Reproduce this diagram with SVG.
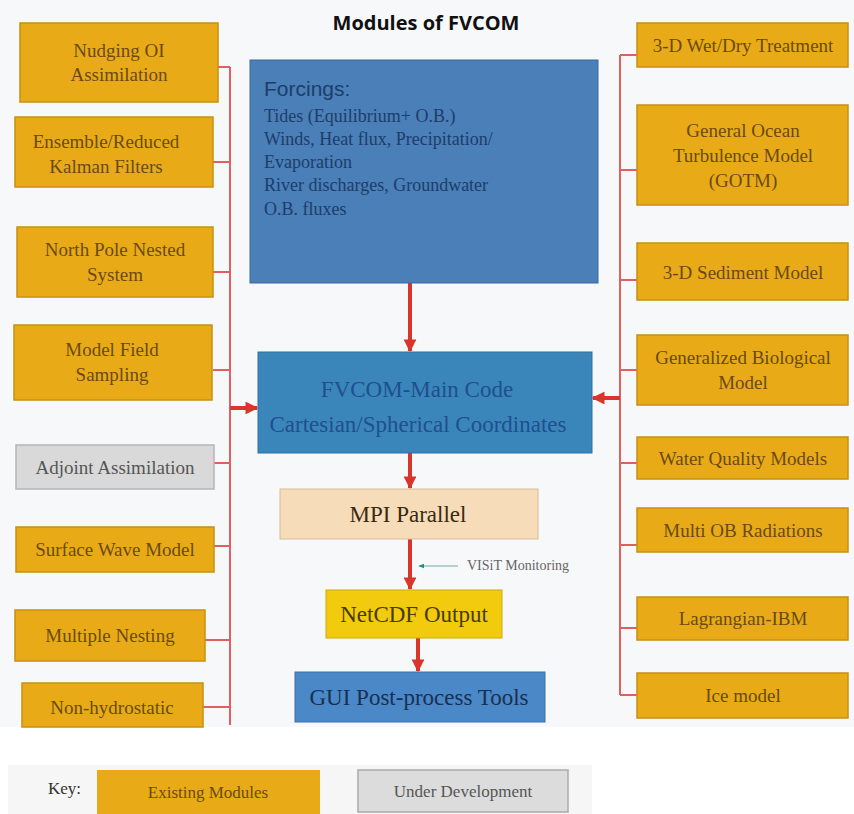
<svg xmlns="http://www.w3.org/2000/svg" width="854" height="814" viewBox="0 0 854 814">
<defs>
<style>
.org{fill:#e9aa17;stroke:#c8900f;stroke-width:1.5}
.gry{fill:#d9d9d9;stroke:#b5b5b5;stroke-width:1.5}
.mt{font-family:"Liberation Serif","Times New Roman",serif;font-size:19px;fill:#6a4a12;text-anchor:middle}
.gt{font-family:"Liberation Serif","Times New Roman",serif;font-size:19px;fill:#555;text-anchor:middle}
.ft{font-family:"Liberation Serif","Times New Roman",serif;font-size:18px;fill:#1d3d6a}
.ct{font-family:"Liberation Serif","Times New Roman",serif;font-size:23px;text-anchor:middle}
.ln{stroke:#e06060;stroke-width:2;fill:none}
.ar{stroke:#d8352c;stroke-width:4;fill:none}
</style>
<marker id="ah" viewBox="0 0 10 10" refX="9" refY="5" markerWidth="3.2" markerHeight="3.2" orient="auto"><path d="M0,0 L10,5 L0,10 z" fill="#d8352c"/></marker>
<marker id="ahg" viewBox="0 0 10 10" refX="9" refY="5" markerWidth="6" markerHeight="6" orient="auto"><path d="M0,1 L10,5 L0,9 z" fill="#2a8a7a"/></marker>
</defs>
<rect x="0" y="0" width="854" height="727" fill="#f7f8fa"/>
<rect x="0" y="727" width="854" height="87" fill="#ffffff"/>
<rect x="8" y="765" width="584" height="49" fill="#f6f6f6"/>
<text x="426" y="30" text-anchor="middle" font-family="'Open Sans','Noto Sans',sans-serif" font-weight="bold" font-size="20" fill="#111">Modules of FVCOM</text>

<g id="connectors">
<path class="ln" d="M230,67 V725 M218,67 H230 M213,162 H230 M213,272 H230 M213,370 H230 M214,463 H230 M214,546 H230 M205,640 H230 M203,707 H230"/>
<path class="ln" d="M620,55 V695 M620,55 H637 M620,170 H637 M620,280 H637 M620,370 H637 M620,463 H637 M620,545 H637 M620,628 H637 M620,695 H637"/>
<line class="ar" x1="230" y1="408" x2="257" y2="408" marker-end="url(#ah)"/>
<line class="ar" x1="620" y1="398" x2="593" y2="398" marker-end="url(#ah)"/>
<line class="ar" x1="410" y1="283" x2="410" y2="351" marker-end="url(#ah)"/>
<line class="ar" x1="410" y1="453" x2="410" y2="488" marker-end="url(#ah)"/>
<line class="ar" x1="410" y1="539" x2="410" y2="589" marker-end="url(#ah)"/>
<line class="ar" x1="418" y1="638" x2="418" y2="671" marker-end="url(#ah)"/>
<line x1="458" y1="566" x2="419" y2="566" stroke="#7aa" stroke-width="1" marker-end="url(#ahg)"/>
</g>
<text x="467" y="570" font-family="'Liberation Serif',serif" font-size="14" fill="#666">VISiT Monitoring</text>

<g id="nudging"><rect class="org" x="20" y="23" width="198" height="79"/><text class="mt" x="119" y="57">Nudging OI</text><text class="mt" x="119" y="81">Assimilation</text></g>
<g id="kalman"><rect class="org" x="15" y="117" width="198" height="70"/><text class="mt" x="106" y="148">Ensemble/Reduced</text><text class="mt" x="106" y="173">Kalman Filters</text></g>
<g id="northpole"><rect class="org" x="17" y="227" width="196" height="70"/><text class="mt" x="115" y="256">North Pole Nested</text><text class="mt" x="115" y="281">System</text></g>
<g id="sampling"><rect class="org" x="14" y="325" width="198" height="75"/><text class="mt" x="112" y="356">Model Field</text><text class="mt" x="112" y="381">Sampling</text></g>
<g id="adjoint"><rect class="gry" x="16" y="445" width="198" height="44"/><text class="gt" x="115" y="474">Adjoint Assimilation</text></g>
<g id="wave"><rect class="org" x="16" y="527" width="198" height="45"/><text class="mt" x="115" y="556">Surface Wave Model</text></g>
<g id="nesting"><rect class="org" x="15" y="610" width="190" height="51"/><text class="mt" x="110" y="642">Multiple Nesting</text></g>
<g id="nonhydro"><rect class="org" x="22" y="683" width="181" height="44"/><text class="mt" x="112" y="714">Non-hydrostatic</text></g>

<g id="forcings"><rect x="250" y="60" width="348" height="223" fill="#4a7fb8" stroke="#3a6a9c" stroke-width="1"/>
<text x="264" y="96" font-family="'Liberation Sans',Arial,sans-serif" font-size="21" fill="#1d3d6a">Forcings:</text>
<text class="ft" x="264" y="122">Tides (Equilibrium+ O.B.)</text>
<text class="ft" x="264" y="145">Winds, Heat flux, Precipitation/</text>
<text class="ft" x="264" y="168">Evaporation</text>
<text class="ft" x="264" y="191">River discharges, Groundwater</text>
<text class="ft" x="264" y="215">O.B. fluxes</text></g>

<g id="maincode"><rect x="258" y="352" width="334" height="101" fill="#3a86ba" stroke="#2f6f9c" stroke-width="1"/>
<text class="ct" x="417" y="397" fill="#1f4f8f">FVCOM-Main Code</text>
<text class="ct" x="418" y="432" fill="#1f4f8f">Cartesian/Spherical Coordinates</text></g>
<g id="mpi"><rect x="280" y="489" width="258" height="50" fill="#f6dcb8" stroke="#d8bc98" stroke-width="1"/><text class="ct" x="408" y="522" fill="#3a2a10">MPI Parallel</text></g>
<g id="netcdf"><rect x="326" y="590" width="176" height="48" fill="#f2cb0e" stroke="#cfaa0a" stroke-width="1"/><text class="ct" x="414" y="622" fill="#4a3a08">NetCDF Output</text></g>
<g id="gui"><rect x="295" y="672" width="250" height="50" fill="#4b88c8" stroke="#3a70a8" stroke-width="1"/><text class="ct" x="419" y="705" fill="#1a2f50">GUI Post-process Tools</text></g>

<g id="wetdry"><rect class="org" x="637" y="23" width="211" height="44"/><text class="mt" x="743" y="52">3-D Wet/Dry Treatment</text></g>
<g id="gotm"><rect class="org" x="637" y="105" width="211" height="100"/><text class="mt" x="743" y="137">General Ocean</text><text class="mt" x="743" y="162">Turbulence Model</text><text class="mt" x="743" y="187">(GOTM)</text></g>
<g id="sediment"><rect class="org" x="637" y="243" width="211" height="57"/><text class="mt" x="743" y="279">3-D Sediment Model</text></g>
<g id="bio"><rect class="org" x="637" y="335" width="211" height="70"/><text class="mt" x="743" y="364">Generalized Biological</text><text class="mt" x="743" y="389">Model</text></g>
<g id="waterq"><rect class="org" x="637" y="437" width="211" height="42"/><text class="mt" x="743" y="465">Water Quality Models</text></g>
<g id="multiob"><rect class="org" x="637" y="508" width="211" height="44"/><text class="mt" x="743" y="537">Multi OB Radiations</text></g>
<g id="lagrangian"><rect class="org" x="637" y="597" width="211" height="43"/><text class="mt" x="743" y="625">Lagrangian-IBM</text></g>
<g id="ice"><rect class="org" x="637" y="673" width="211" height="45"/><text class="mt" x="743" y="702">Ice model</text></g>

<g id="key">
<text x="48" y="794" font-family="'Liberation Serif',serif" font-size="17" fill="#333">Key:</text>
<rect x="97" y="770" width="223" height="44" fill="#e9aa17"/><text class="mt" x="208" y="798" style="font-size:17px">Existing Modules</text>
<rect x="358" y="770" width="210" height="42" fill="#dcdcdc" stroke="#aaa" stroke-width="1.5"/><text class="gt" x="463" y="797" style="font-size:17px">Under Development</text>
</g>
</svg>
